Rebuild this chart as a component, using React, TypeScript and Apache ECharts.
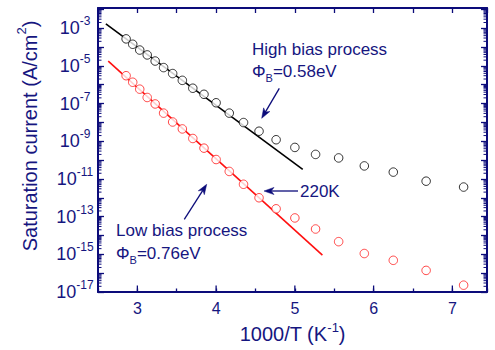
import React, { useEffect, useRef } from 'react';
import * as echarts from 'echarts';

// 1000/T values (K^-1), T = 350 K ... 140 K
const invT = [2.857, 2.941, 3.03, 3.125, 3.226, 3.333, 3.448, 3.571, 3.704, 3.846, 4.0, 4.167, 4.348, 4.545, 4.762, 5.0, 5.263, 5.556, 5.882, 6.25, 6.667, 7.143];
// Saturation current (A/cm^2)
const highBias = [2.7e-4, 1.4e-4, 6.9e-5, 3.8e-5, 1.8e-5, 8.1e-6, 3.9e-6, 1.7e-6, 6.5e-7, 3.1e-7, 1.1e-7, 3.1e-8, 9.8e-9, 3.4e-9, 1.2e-9, 4.7e-10, 2.0e-10, 1.3e-10, 4.9e-11, 2.3e-11, 7.6e-12, 3.7e-12];
const lowBias = [3.0e-6, 1.35e-6, 5.8e-7, 2.1e-7, 9.5e-8, 3.1e-8, 1.05e-8, 4.5e-9, 1.4e-9, 4.3e-10, 1.07e-10, 2.5e-11, 5.2e-12, 1.0e-12, 2.6e-13, 8.5e-14, 2.2e-14, 4.7e-15, 1.1e-15, 4.8e-16, 1.4e-16, 2.3e-17];
// Arrhenius fit lines
const highFitX = [2.6, 5.1];
const highFitY = [1.7e-3, 3.2e-11];
const lowFitX = [2.63, 5.35];
const lowFitY = [1.8e-5, 9.1e-16];
// axis ticks
const xMajorTicks = [3, 4, 5, 6, 7];
const decades = [-17, -16, -15, -14, -13, -12, -11, -10, -9, -8, -7, -6, -5, -4, -3, -2];
const minorMultipliers = [2, 3, 4, 5, 6, 7, 8, 9];

const X_MIN = 2.5;
const X_MAX = 7.44;
const Y_MIN = -17;
const Y_MAX = -1.93;

const AXIS = '#0c0c7a';
const TXT = '#16167f';
const FONT = '"Liberation Sans", Arial, Helvetica, sans-serif';

function arrow(tail: number[], tip: number[]) {
  const dx = tip[0] - tail[0];
  const dy = tip[1] - tail[1];
  const L = Math.hypot(dx, dy);
  const ux = dx / L, uy = dy / L;
  const nx = -uy, ny = ux;
  const len = 10, half = 3.6;
  const bx = tip[0] - len * ux, by = tip[1] - len * uy;
  const notchX = tip[0] - 0.72 * len * ux, notchY = tip[1] - 0.72 * len * uy;
  return [
    {
      type: 'line',
      shape: { x1: tail[0], y1: tail[1], x2: notchX, y2: notchY },
      style: { stroke: AXIS, lineWidth: 1.3 },
      silent: true,
    },
    {
      type: 'polygon',
      shape: {
        points: [
          [tip[0], tip[1]],
          [bx + half * nx, by + half * ny],
          [notchX, notchY],
          [bx - half * nx, by - half * ny],
        ],
      },
      style: { fill: AXIS, stroke: AXIS, lineWidth: 0.5 },
      silent: true,
    },
  ];
}

const phiRich = {
  t: { fontSize: 17, lineHeight: 24, fontFamily: FONT, fill: TXT, color: TXT },
  u: { fontSize: 11, lineHeight: 11, verticalAlign: 'bottom', fontFamily: FONT, fill: TXT, color: TXT },
};

export default function App() {
  const ref = useRef<HTMLDivElement>(null);
  useEffect(() => {
    if (!ref.current) return;
    const chart = echarts.init(ref.current, undefined, { renderer: 'svg' });

    const minorTicks: number[][] = [];
    decades.forEach((n) => {
      minorMultipliers.forEach((k) => {
        const v = n + Math.log10(k);
        if (v < Y_MAX) minorTicks.push([X_MIN, v]);
      });
    });

    const yLabelFormatter = (val: number) => {
      const n = Math.round(val);
      if (Math.abs(val - n) > 1e-6 || Math.abs(n % 2) !== 1) return '';
      return `{b|10}{s|${n}}`;
    };

    const xAxisCommon = {
      type: 'value',
      min: X_MIN,
      max: X_MAX,
      interval: 0.5,
      splitLine: { show: false },
      axisLine: { show: true, onZero: false, lineStyle: { color: AXIS, width: 2 } },
    };
    const yAxisCommon = {
      type: 'value',
      min: Y_MIN,
      max: Y_MAX,
      interval: 1,
      splitLine: { show: false },
      axisLine: { show: true, onZero: false, lineStyle: { color: AXIS, width: 2 } },
      axisTick: { show: true, inside: true, length: 6, lineStyle: { color: AXIS, width: 1.3 } },
    };

    chart.setOption({
      animation: false,
      backgroundColor: '#fff',
      grid: { left: 98, right: 8, top: 8, bottom: 58, containLabel: false },
      xAxis: [
        {
          ...xAxisCommon,
          position: 'bottom',
          axisTick: { show: true, inside: true, length: 3.5, lineStyle: { color: AXIS, width: 1.3 } },
          axisLabel: {
            margin: 8,
            color: TXT,
            fontSize: 16,
            fontFamily: FONT,
            formatter: (v: number) => (Math.abs(v - Math.round(v)) < 1e-6 && v >= 3 && v <= 7 ? String(Math.round(v)) : ''),
          },
          name: '{a|1000/T (K}{s|-1}{a|)}',
          nameLocation: 'middle',
          nameGap: 27,
          nameTextStyle: {
            rich: {
              a: { fontSize: 20, lineHeight: 26, fontFamily: FONT, color: TXT },
              s: { fontSize: 13, lineHeight: 13, verticalAlign: 'top', fontFamily: FONT, color: TXT },
            },
          },
        },
        {
          ...xAxisCommon,
          position: 'top',
          axisTick: { show: true, inside: true, length: 5, lineStyle: { color: AXIS, width: 1.3 } },
          axisLabel: { show: false },
        },
      ],
      yAxis: [
        {
          ...yAxisCommon,
          position: 'left',
          axisLabel: {
            margin: 23,
            align: 'center',
            formatter: yLabelFormatter,
            rich: {
              b: { fontSize: 18, lineHeight: 26, fontFamily: FONT, color: TXT },
              s: { fontSize: 12, lineHeight: 12, verticalAlign: 'top', fontFamily: FONT, color: TXT },
            },
          },
        },
        {
          ...yAxisCommon,
          position: 'right',
          axisLabel: { show: false },
        },
      ],
      series: [
        {
          type: 'line',
          data: highFitX.map((x, i) => [x, Math.log10(highFitY[i])]),
          symbol: 'none',
          lineStyle: { color: '#000', width: 1.6 },
          z: 2,
        },
        {
          type: 'line',
          data: lowFitX.map((x, i) => [x, Math.log10(lowFitY[i])]),
          symbol: 'none',
          lineStyle: { color: '#ff1010', width: 1.6 },
          z: 2,
        },
        {
          type: 'scatter',
          data: invT.map((x, i) => [x, Math.log10(highBias[i])]),
          symbol: 'circle',
          symbolSize: 8.5,
          itemStyle: { color: '#fff', borderColor: '#000', borderWidth: 1 },
          z: 3,
        },
        {
          type: 'scatter',
          data: invT.map((x, i) => [x, Math.log10(lowBias[i])]),
          symbol: 'circle',
          symbolSize: 8.5,
          itemStyle: { color: '#fff', borderColor: '#ff1a1a', borderWidth: 1 },
          z: 3,
        },
        {
          type: 'custom',
          silent: true,
          clip: false,
          data: minorTicks,
          renderItem: (_params: any, api: any) => {
            const y = api.value(1);
            const p = api.coord([X_MIN, y]);
            const q = api.coord([X_MAX, y]);
            return {
              type: 'group',
              children: [
                { type: 'line', shape: { x1: p[0], y1: p[1], x2: p[0] + 3.5, y2: p[1] }, style: { stroke: AXIS, lineWidth: 1 } },
                { type: 'line', shape: { x1: q[0], y1: q[1], x2: q[0] - 3.5, y2: q[1] }, style: { stroke: AXIS, lineWidth: 1 } },
              ],
            };
          },
          z: 5,
        },
        {
          type: 'custom',
          silent: true,
          clip: false,
          data: xMajorTicks.map((x) => [x, Y_MIN]),
          renderItem: (_params: any, api: any) => {
            const p = api.coord([api.value(0), Y_MIN]);
            return {
              type: 'line',
              shape: { x1: p[0], y1: p[1], x2: p[0], y2: p[1] - 6.5 },
              style: { stroke: AXIS, lineWidth: 1.3 },
            };
          },
          z: 5,
        },
      ],
      graphic: [
        {
          type: 'text',
          x: 30,
          y: 136,
          rotation: Math.PI / 2,
          style: {
            text: '{a|Saturation current (A/cm}{s|2}{a|)}',
            align: 'center',
            verticalAlign: 'middle',
            rich: {
              a: { fontSize: 20, lineHeight: 30, fontFamily: FONT, fill: TXT },
              s: { fontSize: 13, lineHeight: 13, verticalAlign: 'top', fontFamily: FONT, fill: TXT },
            },
          },
          silent: true,
        },
        {
          type: 'text',
          x: 252,
          y: 49,
          style: { text: 'High bias process', fontSize: 17, fontFamily: FONT, fill: TXT, align: 'left', verticalAlign: 'middle' },
          silent: true,
        },
        {
          type: 'text',
          x: 252,
          y: 71,
          style: { text: '{t|Φ}{u|B}{t|=0.58eV}', rich: phiRich, align: 'left', verticalAlign: 'middle' },
          silent: true,
        },
        {
          type: 'text',
          x: 116,
          y: 230,
          style: { text: 'Low bias process', fontSize: 17, fontFamily: FONT, fill: TXT, align: 'left', verticalAlign: 'middle' },
          silent: true,
        },
        {
          type: 'text',
          x: 116,
          y: 253,
          style: { text: '{t|Φ}{u|B}{t|=0.76eV}', rich: phiRich, align: 'left', verticalAlign: 'middle' },
          silent: true,
        },
        {
          type: 'text',
          x: 300,
          y: 191,
          style: { text: '220K', fontSize: 17, fontFamily: FONT, fill: TXT, align: 'left', verticalAlign: 'middle' },
          silent: true,
        },
        ...arrow([279.3, 88.3], [261.7, 118.3]),
        ...arrow([184.3, 219.3], [206.7, 184.3]),
        ...arrow([298, 191], [264, 191]),
      ],
    });

    return () => chart.dispose();
  }, []);

  return <div ref={ref} style={{ position: 'absolute', left: 0, top: 0, width: 495, height: 350 }} />;
}
